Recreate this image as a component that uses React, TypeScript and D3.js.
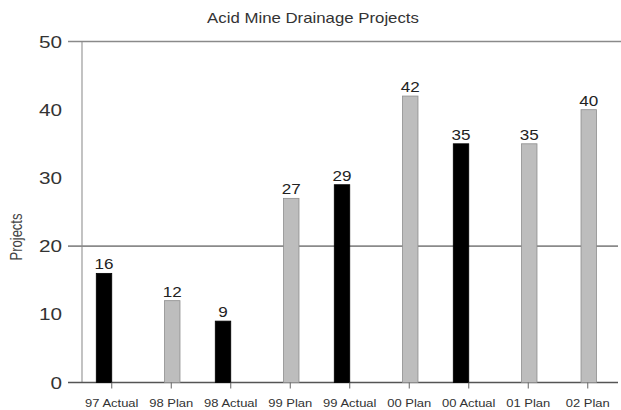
import React from "react";
import * as d3 from "d3";

const categories = [
  "97 Actual",
  "98 Plan",
  "98 Actual",
  "99 Plan",
  "99 Actual",
  "00 Plan",
  "00 Actual",
  "01 Plan",
  "02 Plan",
];
const values = [16, 12, 9, 27, 29, 42, 35, 35, 40];
const kinds = ["Actual", "Plan", "Actual", "Plan", "Actual", "Plan", "Actual", "Plan", "Plan"];
const yTicks = [0, 10, 20, 30, 40, 50];
const ruledTicks = [0, 20, 50];
const title = "Acid Mine Drainage Projects";
const yLabel = "Projects";

const W = 621;
const H = 410;
const FONT = "'Liberation Sans', Arial, Helvetica, sans-serif";

// Lettering is drawn slightly widened horizontally.
function Label({ x, y, size, anchor = "middle", color = "#222", children, rotate = 0, sx = 1.22 }: any) {
  return (
    <g transform={`translate(${x},${y}) rotate(${rotate}) scale(${rotate ? 1 : sx},${rotate ? sx : 1})`}>
      <text x={0} y={0} fontFamily={FONT} fontSize={size} textAnchor={anchor} fill={color}>
        {children}
      </text>
    </g>
  );
}

export default function App() {
  const x = d3.scaleBand<string>().domain(categories).range([82, 617.5]).padding(0);
  const y = d3.scaleLinear().domain([0, 50]).range([382.5, 41.5]);
  const bw = x.bandwidth() * 0.26;

  return (
    <svg width={W} height={H} style={{ position: "absolute", left: 0, top: 0, background: "#fff" }}>
      <Label x={313} y={23} size={14} color="#333" sx={1.2}>
        {title}
      </Label>

      {/* y axis line */}
      <line x1={82} x2={82} y1={y(50)} y2={y(0)} stroke="#9a9a9a" strokeWidth={1.2} />

      {/* ruled lines */}
      {ruledTicks.map((t) => (
        <line
          key={t}
          x1={68}
          x2={t === 50 ? W : 618}
          y1={y(t)}
          y2={y(t)}
          stroke={t === 0 ? "#555" : "#8a8a8a"}
          strokeWidth={1.6}
        />
      ))}

      {/* y tick labels */}
      {yTicks.map((t) => (
        <Label key={t} x={62} y={y(t) + 6} size={17} anchor="end" color="#333">
          {t}
        </Label>
      ))}

      <Label x={22} y={237} size={13} rotate={-90} color="#444">
        {yLabel}
      </Label>

      {/* bars */}
      {categories.map((c, i) => {
        const cx = (x(c) as number) + x.bandwidth() / 2;
        const isActual = kinds[i] === "Actual";
        const x0 = isActual ? cx - bw : cx - bw / 2 + 1;
        const top = y(values[i]);
        return (
          <g key={c}>
            <rect
              x={x0}
              y={top}
              width={bw}
              height={y(0) - top}
              fill={isActual ? "#000" : "#bdbdbd"}
              stroke={isActual ? "#000" : "#8e8e8e"}
              strokeWidth={0.8}
            />
            <Label x={x0 + bw / 2} y={top - 4} size={14} color="#222">
              {values[i]}
            </Label>
            <line x1={cx} x2={cx} y1={y(0)} y2={y(0) + 6} stroke="#666" strokeWidth={1} />
            <Label x={cx} y={406.5} size={10} color="#333" sx={1.3}>
              {c}
            </Label>
          </g>
        );
      })}
    </svg>
  );
}
